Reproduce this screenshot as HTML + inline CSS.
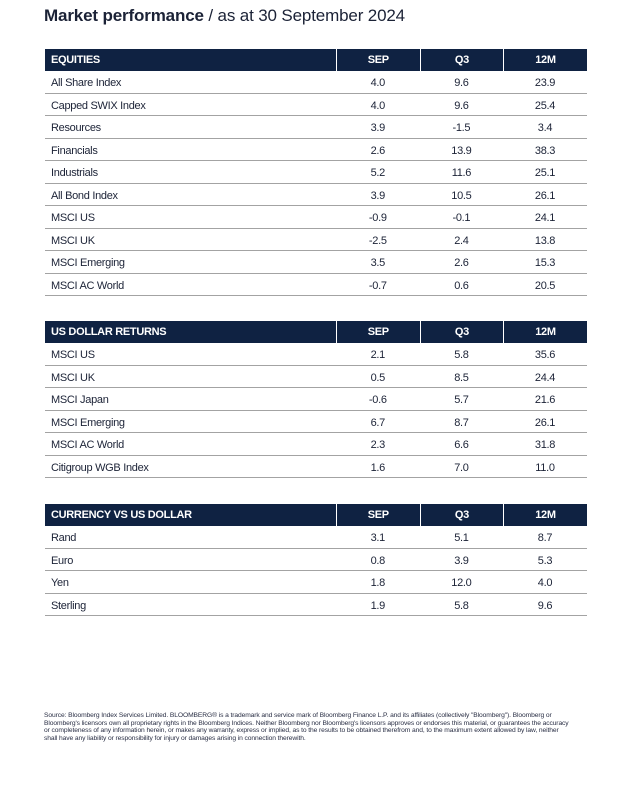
<!DOCTYPE html>
<html><head><meta charset="utf-8"><style>
*{margin:0;padding:0;box-sizing:border-box}
body{width:634px;height:804px;background:#fff;font-family:"Liberation Sans",Arial,sans-serif;color:#1b2236;position:relative;overflow:hidden}
.title{position:absolute;left:44px;top:6px;font-size:17px;color:#1b2236;letter-spacing:-0.15px}
.title b{font-weight:bold}
.tbl{position:absolute;left:45px;width:542px}
.r{display:flex;height:22.5px;border-bottom:1px solid #a3a3a3;font-size:11px;line-height:24px;letter-spacing:-0.3px}
.r div{text-align:center}
.r .l{width:291px;text-align:left;padding-left:6px}
.r .c{width:83.6px}
.h{background:#0f2242;color:#fff;font-weight:bold;border-bottom:none;height:22px;line-height:23px}
.h .c{border-left:1px solid #fff}
.foot{position:absolute;left:44px;top:712px;font-size:6.7px;line-height:7.6px;color:#2a2f45;letter-spacing:-0.1px;white-space:nowrap}
</style></head><body>
<div class="title"><b>Market performance</b> / as at 30 September 2024</div>

<div class="tbl" style="top:49px">
<div class="r h"><div class="l">EQUITIES</div><div class="c">SEP</div><div class="c">Q3</div><div class="c">12M</div></div>
<div class="r"><div class="l">All Share Index</div><div class="c">4.0</div><div class="c">9.6</div><div class="c">23.9</div></div>
<div class="r"><div class="l">Capped SWIX Index</div><div class="c">4.0</div><div class="c">9.6</div><div class="c">25.4</div></div>
<div class="r"><div class="l">Resources</div><div class="c">3.9</div><div class="c">-1.5</div><div class="c">3.4</div></div>
<div class="r"><div class="l">Financials</div><div class="c">2.6</div><div class="c">13.9</div><div class="c">38.3</div></div>
<div class="r"><div class="l">Industrials</div><div class="c">5.2</div><div class="c">11.6</div><div class="c">25.1</div></div>
<div class="r"><div class="l">All Bond Index</div><div class="c">3.9</div><div class="c">10.5</div><div class="c">26.1</div></div>
<div class="r"><div class="l">MSCI US</div><div class="c">-0.9</div><div class="c">-0.1</div><div class="c">24.1</div></div>
<div class="r"><div class="l">MSCI UK</div><div class="c">-2.5</div><div class="c">2.4</div><div class="c">13.8</div></div>
<div class="r"><div class="l">MSCI Emerging</div><div class="c">3.5</div><div class="c">2.6</div><div class="c">15.3</div></div>
<div class="r"><div class="l">MSCI AC World</div><div class="c">-0.7</div><div class="c">0.6</div><div class="c">20.5</div></div>
</div>

<div class="tbl" style="top:321px">
<div class="r h"><div class="l">US DOLLAR RETURNS</div><div class="c">SEP</div><div class="c">Q3</div><div class="c">12M</div></div>
<div class="r"><div class="l">MSCI US</div><div class="c">2.1</div><div class="c">5.8</div><div class="c">35.6</div></div>
<div class="r"><div class="l">MSCI UK</div><div class="c">0.5</div><div class="c">8.5</div><div class="c">24.4</div></div>
<div class="r"><div class="l">MSCI Japan</div><div class="c">-0.6</div><div class="c">5.7</div><div class="c">21.6</div></div>
<div class="r"><div class="l">MSCI Emerging</div><div class="c">6.7</div><div class="c">8.7</div><div class="c">26.1</div></div>
<div class="r"><div class="l">MSCI AC World</div><div class="c">2.3</div><div class="c">6.6</div><div class="c">31.8</div></div>
<div class="r"><div class="l">Citigroup WGB Index</div><div class="c">1.6</div><div class="c">7.0</div><div class="c">11.0</div></div>
</div>

<div class="tbl" style="top:504px">
<div class="r h"><div class="l">CURRENCY VS US DOLLAR</div><div class="c">SEP</div><div class="c">Q3</div><div class="c">12M</div></div>
<div class="r"><div class="l">Rand</div><div class="c">3.1</div><div class="c">5.1</div><div class="c">8.7</div></div>
<div class="r"><div class="l">Euro</div><div class="c">0.8</div><div class="c">3.9</div><div class="c">5.3</div></div>
<div class="r"><div class="l">Yen</div><div class="c">1.8</div><div class="c">12.0</div><div class="c">4.0</div></div>
<div class="r"><div class="l">Sterling</div><div class="c">1.9</div><div class="c">5.8</div><div class="c">9.6</div></div>
</div>

<div class="foot">
Source: Bloomberg Index Services Limited. BLOOMBERG® is a trademark and service mark of Bloomberg Finance L.P. and its affiliates (collectively "Bloomberg"). Bloomberg or<br>
Bloomberg's licensors own all proprietary rights in the Bloomberg Indices. Neither Bloomberg nor Bloomberg's licensors approves or endorses this material, or guarantees the accuracy<br>
or completeness of any information herein, or makes any warranty, express or implied, as to the results to be obtained therefrom and, to the maximum extent allowed by law, neither<br>
shall have any liability or responsibility for injury or damages arising in connection therewith.
</div>
</body></html>
